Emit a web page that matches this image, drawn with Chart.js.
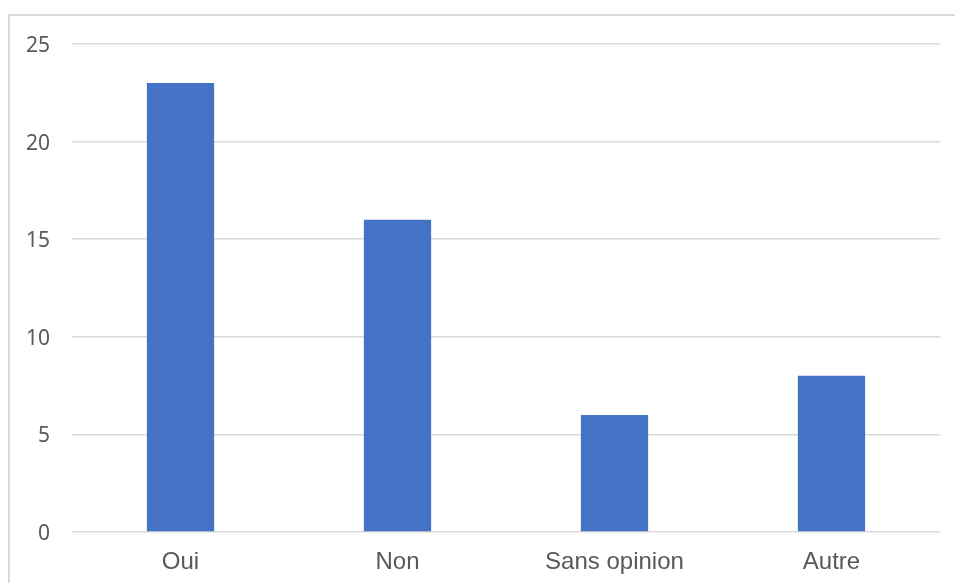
<!DOCTYPE html>
<html>
<head>
<meta charset="utf-8">
<style>
  html, body { margin: 0; padding: 0; background: #fff; }
  #frame { position: absolute; left: 8px; top: 14px; width: 1000px; height: 600px; border: 2px solid #d9d9d9; }
  #wrap { position: absolute; left: 0; top: 0; width: 955px; height: 583px; }
</style>
<script src="https://cdn.jsdelivr.net/npm/chart.js@4/dist/chart.umd.min.js"></script>
</head>
<body>
<div id="frame"></div>
<div id="wrap"><canvas id="chart" width="955" height="583"></canvas></div>
<script>
/* ========== DATA ========== */
const categories = ["Oui", "Non", "Sans opinion", "Autre"];
const responses = [23, 16, 6, 8];
const yTicks = [0, 5, 10, 15, 20, 25];

/* ========== CHART ========== */
const ctx = document.getElementById("chart").getContext("2d");
new Chart(ctx, {
  type: "bar",
  data: {
    labels: categories,
    datasets: [
      {
        label: "Réponses",
        data: responses,
        backgroundColor: "#4472C4",
        barPercentage: 0.31,
        categoryPercentage: 1,
      },
    ],
  },
  options: {
    responsive: false,
    animation: false,
    layout: { padding: { left: 0, right: 15, top: 44, bottom: 0 } },
    plugins: {
      legend: { display: false },
      tooltip: { enabled: false },
    },
    scales: {
      x: {
        grid: { display: false },
        border: { display: false },
        ticks: {
          color: "#595959",
          padding: 8,
          font: { family: "'Liberation Sans', Arial, sans-serif", size: 24 },
        },
        afterFit: (axis) => { axis.height = 51; },
      },
      y: {
        min: 0,
        max: 25,
        afterBuildTicks: (axis) => { axis.ticks = yTicks.map((v) => ({ value: v })); },
        grid: { color: "#d9d9d9", lineWidth: 1.5, drawTicks: false },
        border: { display: false },
        ticks: {
          color: "#595959",
          padding: 22,
          labelOffset: 2,
          font: { family: "'Noto Sans', sans-serif", size: 21 },
        },
        afterFit: (axis) => { axis.width = 72; },
      },
    },
  },
});
</script>
</body>
</html>
